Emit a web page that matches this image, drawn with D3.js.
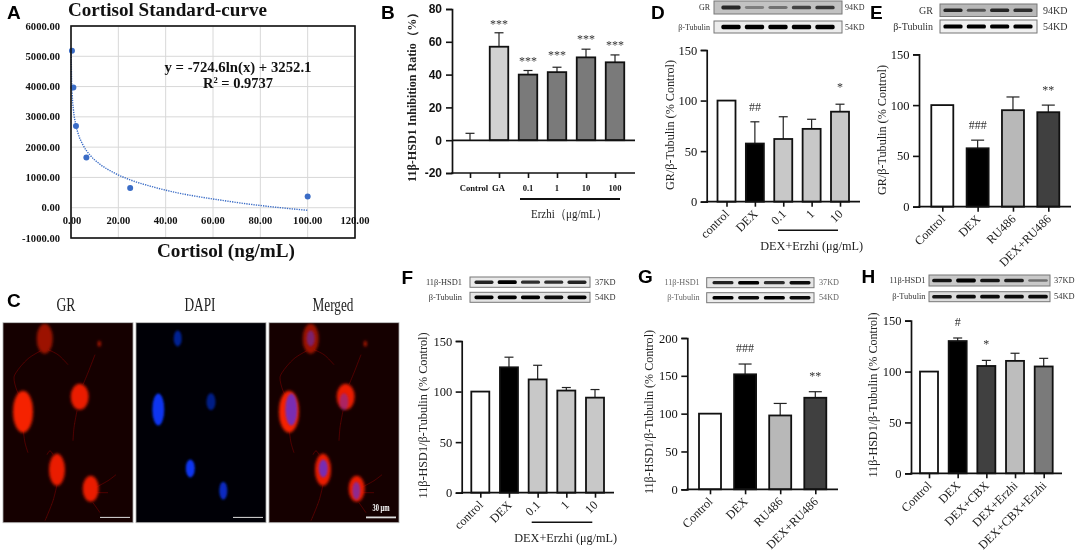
<!DOCTYPE html>
<html><head><meta charset="utf-8">
<script src="https://cdn.jsdelivr.net/npm/d3@7"></script>
<style>
html,body{margin:0;padding:0;background:#fff}
svg{display:block;filter:blur(0.35px)}
text{font-family:"Liberation Serif",serif;fill:#111}
</style></head><body>
<script>
// ---------- panel A data ----------
const curveX=[0.1,0.2,0.5,1,2,3,5,8,12,18,25,35,45,55,65,75,85,95,100];
const curveY=[5150,4420,3750,3250,2750,2450,2080,1740,1450,1160,920,680,490,350,230,120,30,-50,-85];
const pointX=[0.4,1,2.1,6.5,25,100];
const pointY=[5180,3970,2700,1660,650,370];
const ticksAX=[0,20,40,60,80,100,120];
const ticksAY=[-1000,0,1000,2000,3000,4000,5000,6000];
// ---------- panel B ----------
const catB=["Control","GA","0.1","1","10","100"];
const valB=[0,57,40,41.5,50.5,47.5];
const errB=[4.2,65.5,42.5,44.5,55.5,52];
const sigB=["","***","***","***","***","***"];
const sigPosB=[0,72,49.5,52.6,62.4,58.7];
// ---------- panel D ----------
const catD=["control","DEX","0.1","1","10"];
const valD=[100,57.5,62,72,89];
const errD=[100,79,84,81.5,96.4];
const sigD=["","##","","","*"];
const sigPosD=[0,94,0,0,114.5];
// ---------- panel E ----------
const catE=["Control","DEX","RU486","DEX+RU486"];
const valE=[100,57.5,95,93];
const errE=[100,65.5,108,100];
const sigE=["","###","","**"];
const sigPosE=[0,80,0,116];
// ---------- panel F ----------
const catF=["control","DEX","0.1","1","10"];
const valF=[100,124,112,101,94];
const errF=[100,134,126,104,102];
// ---------- panel G ----------
const catG=["Control","DEX","RU486","DEX+RU486"];
const valG=[100,152,97.6,121];
const errG=[100,165.6,113.5,129];
const sigG=["","###","","**"];
const sigPosG=[0,186.6,0,152];
// ---------- panel H ----------
const catH=["Control","DEX","DEX+CBX","DEX+Erzhi","DEX+CBX+Erzhi"];
const valH=[100,130,105.5,110.5,105];
const errH=[100,133,111,118,113];
const sigH=["","#","*","",""];
const sigPosH=[0,148.7,128.6,0,0];
// ---------- blot band intensities ----------
const blotD1=[.8,.35,.42,.65,.72], blotD2=[1,1,1,1,1];
const blotE1=[.8,.55,.8,.75], blotE2=[1,1,1,1];
const blotF1=[.85,1,.8,.8,.85], blotF2=[1,1,1,.95,1];
const blotG1=[.85,1,.8,.95], blotG2=[1,.95,1,.95];
const blotH1=[.9,1,.9,.85,.45], blotH2=[.9,.95,.95,.95,.95];
// ---------- micrograph content (image units 0-130 x 0-200) ----------
const redCells=[[41.7,16,8,15,.6],[96.3,21,1.4,3,.85],[20,89,10,21,1],[76.7,74,9,13,.95],[54,147,8,16,.95],[87.7,166,8,13,.95]];
const blueCells=[[41.7,15.7,4,8,.6],[22.3,86.7,6,16,1],[75,79,4.5,8.5,.55],[54.3,145.7,4.5,9,1],[87.3,168,4,9,.8]];
const neurites=[
 [[38,28],[25,36],[13,50],[11,55],[14,68],[18,75]],
 [[45,27],[55,32],[65,42]],
 [[20,105],[22,120],[25,130]],
 [[54,162],[50,178],[42,198]],
 [[50,132],[47,128],[44,132]],
 [[92,165],[105,158],[113,152]],
 [[93,170],[105,170]],
 [[90,180],[97,190]],
 [[74,88],[71,105],[70,118]],
 [[80,62],[85,50],[92,32]]
];

const W=1079,H=551;
const svg=d3.select("body").append("svg").attr("width",W).attr("height",H).attr("viewBox",`0 0 ${W} ${H}`);
const defs=svg.append("defs");
[["b06",.6],["b1",1.3],["b2",1.8]].forEach(([id,s])=>{
  defs.append("filter").attr("id",id).attr("x","-60%").attr("y","-60%").attr("width","220%").attr("height","220%")
    .append("feGaussianBlur").attr("stdDeviation",s);
});
const hy=s=>String(s).replace("\u2212","-");

function T(x,y,s,o={}){
  const t=svg.append("text").attr("x",x).attr("y",y).text(s)
    .attr("font-size",o.size||12).attr("text-anchor",o.anchor||"start");
  if(o.weight)t.attr("font-weight",o.weight);
  if(o.family)t.style("font-family",o.family);
  if(o.fill)t.style("fill",o.fill);
  if(o.len)t.attr("textLength",o.len).attr("lengthAdjust","spacingAndGlyphs");
  if(o.rot!=null)t.attr("transform",`rotate(${o.rot} ${x} ${y})`);
  return t;
}
const SANS='"Liberation Sans",sans-serif';
function letter(s,x,y){T(x,y,s,{size:19,weight:"bold",family:SANS,fill:"#000"});}

// ---------- Panel A ----------
(function(){
  const x=d3.scaleLinear().domain([0,120]).range([71,355]);
  const y=d3.scaleLinear().domain([-1000,6000]).range([238,26]);
  const g=svg.append("g");
  g.selectAll("line.gy").data(ticksAY).join("line").attr("x1",71).attr("x2",355).attr("y1",d=>y(d)).attr("y2",d=>y(d)).attr("stroke","#d8d8d8").attr("stroke-width",1);
  g.selectAll("line.gx").data(ticksAX).join("line").attr("y1",26).attr("y2",238).attr("x1",d=>x(d)).attr("x2",d=>x(d)).attr("stroke","#d8d8d8").attr("stroke-width",1);
  const line=d3.line().x((d,i)=>x(curveX[i])).y((d,i)=>y(curveY[i])).curve(d3.curveMonotoneX);
  g.append("path").attr("d",line(curveX)).attr("fill","none").attr("stroke","#3a6cc6").attr("stroke-width",1.4).attr("stroke-dasharray","1.3 1.1");
  g.selectAll("circle").data(pointX).join("circle").attr("cx",d=>x(d)).attr("cy",(d,i)=>y(pointY[i])).attr("r",3).attr("fill","#3a6cc6");
  g.append("rect").attr("x",71).attr("y",26).attr("width",284).attr("height",212).attr("fill","none").attr("stroke","#111").attr("stroke-width",1.6);
  ticksAY.forEach(v=>T(60,y(v)+3.5,hy(d3.format(".2f")(v)),{size:10.6,weight:"bold",anchor:"end"}));
  ticksAX.forEach(v=>T(x(v)+(v==0?1:0),224,d3.format(".2f")(v),{size:10.6,weight:"bold",anchor:"middle"}));
  T(68,15.5,"Cortisol Standard-curve",{size:18,weight:"bold",len:199});
  T(238,71.5,"y = -724.6ln(x) + 3252.1",{size:14,weight:"bold",anchor:"middle",len:147});
  const r=T(238,87.5,"R",{size:14.5,weight:"bold",anchor:"middle"});
  r.append("tspan").text("2").attr("font-size",8.5).attr("dy",-5);
  r.append("tspan").text(" = 0.9737").attr("dy",5);
  T(226,257,"Cortisol (ng/mL)",{size:18.5,weight:"bold",anchor:"middle",len:138});
})();
letter("A",7,19);

// ---------- Generic bars ----------
function bars(o){
  const y=d3.scaleLinear().domain(o.domain).range(o.yrange);
  const x=d3.scalePoint().domain(o.cats).range(o.xrange);
  const g=svg.append("g");
  const cw=o.capw||4.5;
  g.selectAll("line.e").data(o.vals).join("line").attr("x1",(d,i)=>x(o.cats[i])).attr("x2",(d,i)=>x(o.cats[i]))
    .attr("y1",d=>y(d)).attr("y2",(d,i)=>y(o.errs[i])).attr("stroke","#222").attr("stroke-width",1.2);
  g.selectAll("line.c").data(o.errs).join("line").attr("x1",(d,i)=>x(o.cats[i])-cw).attr("x2",(d,i)=>x(o.cats[i])+cw)
    .attr("y1",d=>y(d)).attr("y2",d=>y(d)).attr("stroke","#222").attr("stroke-width",1.2)
    .attr("opacity",(d,i)=>o.errs[i]>o.vals[i]?1:0);
  const y0=y(o.base==null?o.domain[0]:o.base);
  g.selectAll("rect").data(o.vals).join("rect").attr("x",(d,i)=>x(o.cats[i])-o.bw/2).attr("width",o.bw)
    .attr("y",d=>Math.min(y(d),y0)).attr("height",d=>Math.abs(y0-y(d)))
    .attr("fill",(d,i)=>o.fills[i]).attr("stroke","#111").attr("stroke-width",1.8)
    .attr("opacity",d=>d===(o.base==null?o.domain[0]:o.base)?0:1);
  const ax=d3.axisLeft(y).tickValues(o.yticks).tickSize(o.tick||6).tickFormat(d=>hy(d3.format("d")(d)));
  const ya=g.append("g").attr("transform",`translate(${o.ax},0)`).call(ax);
  ya.select(".domain").attr("stroke","#111").attr("stroke-width",1.7);
  ya.selectAll(".tick line").attr("stroke","#111").attr("stroke-width",1.6);
  ya.selectAll(".tick text").attr("font-size",o.ysize||12.5).attr("dx",o.ydx||-0.5).attr("font-family",null).attr("fill",null)
    .style("font-family",o.yfamily||null).style("font-weight",o.yweight||null).style("fill","#111");
  g.append("line").attr("x1",o.ax-.75).attr("x2",o.xend).attr("y1",y(o.domain[0])).attr("y2",y(o.domain[0])).attr("stroke","#111").attr("stroke-width",1.7);
  const xa=d3.axisBottom(x).tickSize(5).tickFormat("");
  const xg=g.append("g").attr("transform",`translate(0,${y(o.domain[0])})`).call(xa);
  xg.select(".domain").remove();
  xg.selectAll(".tick line").attr("stroke","#111").attr("stroke-width",1.6);
  if(o.rotate!==false){
    o.cats.forEach(c=>{
      const lx=x(c)+3.5, ly=y(o.domain[0])+13;
      const t=T(lx,ly,c,{size:o.xsize||12.2,anchor:"end",fill:"#222"});
      t.attr("transform",`rotate(-45 ${lx} ${ly})`);
    });
  }
  if(o.sig)o.sig.forEach((s,i)=>{ if(s) T(x(o.cats[i]),y(o.sigPos[i])+(s[0]=="*"?5.5:4),s,{size:12,anchor:"middle",fill:"#333"}); });
  return {x,y};
}
function blot(o){
  const n=o.rows[0].data.length;
  const x=d3.scalePoint().domain(d3.range(n)).range(o.lanes);
  const step=(o.lanes[1]-o.lanes[0])/(n-1);
  o.rows.forEach(r=>{
    svg.append("rect").attr("x",o.x0).attr("width",o.x1-o.x0).attr("y",r.y0).attr("height",r.y1-r.y0)
      .attr("fill",r.bg).attr("stroke","#777").attr("stroke-width",1);
    const c=(r.y0+r.y1)/2;
    svg.append("g").attr("filter","url(#b06)").selectAll("rect").data(r.data).join("rect")
      .attr("x",(d,i)=>x(i)-step*.41).attr("width",step*.82)
      .attr("y",d=>c-o.bh*(.45+.55*d)).attr("height",d=>2*o.bh*(.45+.55*d)).attr("rx",1.6)
      .attr("fill","#000").attr("opacity",d=>d);
    T(o.x0-o.gap,c+o.ls*.33,r.label,{size:o.ls,anchor:"end",fill:o.lf||"#333"});
    T(o.x1+o.kdgap,c+o.ls*.33,r.kd,{size:o.ls,fill:o.lf||"#333"});
  });
}
function title(x,yc,s,len,o={}){
  T(x,yc,s,Object.assign({size:12.5,anchor:"middle",rot:-90,len:len,fill:"#222"},o));
}

// ---------- Panel B ----------
bars({cats:catB,vals:valB,errs:errB,domain:[-20,80],base:0,yrange:[173,9],xrange:[470,615],bw:18.5,ax:452,xend:635,
  yticks:[-20,0,20,40,60,80],fills:["#fff","#d2d2d2","#7a7a7a","#7a7a7a","#7a7a7a","#7a7a7a"],rotate:false,sig:sigB,sigPos:sigPosB,
  ysize:12,yfamily:SANS,yweight:"bold",ydx:-1});
svg.append("line").attr("x1",452).attr("x2",635).attr("y1",140.3).attr("y2",140.3).attr("stroke","#111").attr("stroke-width",1.7);
{const xb=d3.scalePoint().domain(catB).range([470,615]);
 catB.forEach(c=>T(xb(c)+(c=="Control"?4:c=="GA"?-.5:0),191,c,{size:8.6,weight:"bold",anchor:"middle"}));}
svg.append("line").attr("x1",520).attr("x2",620).attr("y1",199).attr("y2",199).attr("stroke","#111").attr("stroke-width",2);
T(569,218,"Erzhi（μg/mL）",{size:12.5,anchor:"middle",len:76,fill:"#222"});
title(416,94,"11β-HSD1 Inhibition Ratio（%）",176,{size:11.5,weight:"bold"});
letter("B",381,19);

// ---------- Panel D ----------
bars({cats:catD,vals:valD,errs:errD,domain:[0,150],yrange:[201.7,50],xrange:[726.5,840],bw:18,ax:706.7,xend:860,
  yticks:[0,50,100,150],fills:["#fff","#000","#c8c8c8","#c8c8c8","#c8c8c8"],sig:sigD,sigPos:sigPosD});
title(674,125,"GR/β-Tubulin (% Control)",130);
svg.append("line").attr("x1",778).attr("x2",838).attr("y1",230.3).attr("y2",230.3).attr("stroke","#111").attr("stroke-width",1.5);
T(811.7,250,"DEX+Erzhi (μg/mL)",{size:12,anchor:"middle",len:103,fill:"#222"});
blot({x0:714,x1:842,lanes:[731,825],bh:2.2,gap:4,kdgap:3,ls:8,rows:[
  {y0:1,y1:14,bg:"#c2c2c2",data:blotD1,label:"GR",kd:"94KD"},
  {y0:21,y1:33,bg:"#ececec",data:blotD2,label:"β-Tubulin",kd:"54KD"}]});
letter("D",651,19);

// ---------- Panel E ----------
bars({cats:catE,vals:valE,errs:errE,domain:[0,150],yrange:[206.7,54.3],xrange:[942.3,1048.3],bw:22,ax:919,xend:1071,
  yticks:[0,50,100,150],fills:["#fff","#000","#b8b8b8","#404040"],sig:sigE,sigPos:sigPosE,capw:6.5});
title(886,130,"GR/β-Tubulin (% Control)",130);
blot({x0:940,x1:1037,lanes:[953,1023],bh:2.1,gap:7,kdgap:6,ls:10,rows:[
  {y0:4,y1:16.5,bg:"#b8b8b8",data:blotE1,label:"GR",kd:"94KD"},
  {y0:20,y1:33,bg:"#f0f0f0",data:blotE2,label:"β-Tubulin",kd:"54KD"}]});
letter("E",870,19);

// ---------- Panel C ----------
function micro(x0,kind){
  const y0=322.7,w=130,h=200;
  const id="clip"+kind;
  defs.append("clipPath").attr("id",id).append("rect").attr("width",w).attr("height",h);
  const gx=d3.scaleLinear().domain([0,130]).range([0,w]);
  const gy=d3.scaleLinear().domain([0,200]).range([0,h]);
  const outer=svg.append("g").attr("transform",`translate(${x0},${y0})`);
  const g=outer.append("g").attr("clip-path",`url(#${id})`);
  g.append("rect").attr("width",w).attr("height",h).attr("fill",kind==2?"#000006":"#150000");
  if(kind!==2){
    g.append("g").attr("filter","url(#b06)").selectAll("path").data(neurites).join("path")
      .attr("d",d3.line().x(d=>gx(d[0])).y(d=>gy(d[1])).curve(d3.curveCatmullRom))
      .attr("fill","none").attr("stroke","#a01000").attr("stroke-width",1).attr("opacity",.42);
    g.append("g").attr("filter","url(#b2)").selectAll("ellipse").data(redCells).join("ellipse")
      .attr("cx",d=>gx(d[0])).attr("cy",d=>gy(d[1])).attr("rx",d=>gx(d[2])).attr("ry",d=>gy(d[3]))
      .attr("fill","#f52000").attr("opacity",d=>d[4]);
  }
  if(kind!==1){
    g.append("g").attr("filter","url(#b1)").selectAll("ellipse").data(blueCells).join("ellipse")
      .attr("cx",d=>gx(d[0])).attr("cy",d=>gy(d[1])).attr("rx",d=>gx(d[2])).attr("ry",d=>gy(d[3]))
      .attr("fill",kind==2?"#0a36f0":"#5a30e0").attr("opacity",d=>kind==2?d[4]:d[4]*.8);
  }
  outer.append("rect").attr("width",w).attr("height",h).attr("fill","none").attr("stroke","#aaa").attr("stroke-width",.8);
  outer.append("line").attr("x1",gx(97)).attr("x2",gx(127)).attr("y1",gy(194.7)).attr("y2",gy(194.7)).attr("stroke","#ddd").attr("stroke-width",kind==3?1.8:1);
}
micro(3,1);micro(136,2);micro(269,3);
T(66,311,"GR",{size:18,anchor:"middle",len:19,fill:"#222"});
T(200,311,"DAPI",{size:18,anchor:"middle",len:31,fill:"#222"});
T(333,311,"Merged",{size:18,anchor:"middle",len:41,fill:"#222"});
T(381,511,"30 μm",{size:10,anchor:"middle",weight:"bold",fill:"#fff",len:17});
letter("C",7,306.5);

// ---------- Panel F ----------
bars({cats:catF,vals:valF,errs:errF,domain:[0,150],yrange:[492.7,341],xrange:[480.3,595],bw:18,ax:461.7,xend:614,
  yticks:[0,50,100,150],fills:["#fff","#000","#c8c8c8","#c8c8c8","#c8c8c8"]});
title(427,415.5,"11β-HSD1/β-Tubulin (% Control)",166);
svg.append("line").attr("x1",531.7).attr("x2",592.3).attr("y1",522.3).attr("y2",522.3).attr("stroke","#111").attr("stroke-width",1.5);
T(565.7,541.7,"DEX+Erzhi (μg/mL)",{size:12,anchor:"middle",len:103,fill:"#222"});
blot({x0:470,x1:590,lanes:[484,577],bh:1.9,gap:8,kdgap:5,ls:8.4,rows:[
  {y0:277,y1:287.3,bg:"#eaeaea",data:blotF1,label:"11β-HSD1",kd:"37KD"},
  {y0:292.3,y1:302.3,bg:"#e4e4e4",data:blotF2,label:"β-Tubulin",kd:"54KD"}]});
letter("F",401.5,284);

// ---------- Panel G ----------
bars({cats:catG,vals:valG,errs:errG,domain:[0,200],yrange:[489.3,338],xrange:[710,815.3],bw:22,ax:687.3,xend:838,
  yticks:[0,50,100,150,200],fills:["#fff","#000","#b8b8b8","#404040"],sig:sigG,sigPos:sigPosG,capw:6.5});
title(653,412,"11β-HSD1/β-Tubulin (% Control)",164);
blot({x0:706.7,x1:814,lanes:[723,800],bh:1.8,gap:7,kdgap:5,ls:8.2,lf:"#666",rows:[
  {y0:277.7,y1:287.7,bg:"#e6e6e6",data:blotG1,label:"11β-HSD1",kd:"37KD"},
  {y0:292.7,y1:302.7,bg:"#ececec",data:blotG2,label:"β-Tubulin",kd:"54KD"}]});
letter("G",638,283);

// ---------- Panel H ----------
bars({cats:catH,vals:valH,errs:errH,domain:[0,150],yrange:[473.3,320.7],xrange:[929,1043.7],bw:18,ax:911,xend:1062,
  yticks:[0,50,100,150],fills:["#fff","#000","#404040","#bdbdbd","#7a7a7a"],sig:sigH,sigPos:sigPosH});
title(877,395,"11β-HSD1/β-Tubulin (% Control)",165);
blot({x0:929,x1:1050,lanes:[942,1038],bh:1.9,gap:3.5,kdgap:4,ls:8.4,rows:[
  {y0:275,y1:286,bg:"#c8c8c8",data:blotH1,label:"11β-HSD1",kd:"37KD"},
  {y0:291.7,y1:301.7,bg:"#dcdcdc",data:blotH2,label:"β-Tubulin",kd:"54KD"}]});
letter("H",861.5,283);
</script>
</body></html>
